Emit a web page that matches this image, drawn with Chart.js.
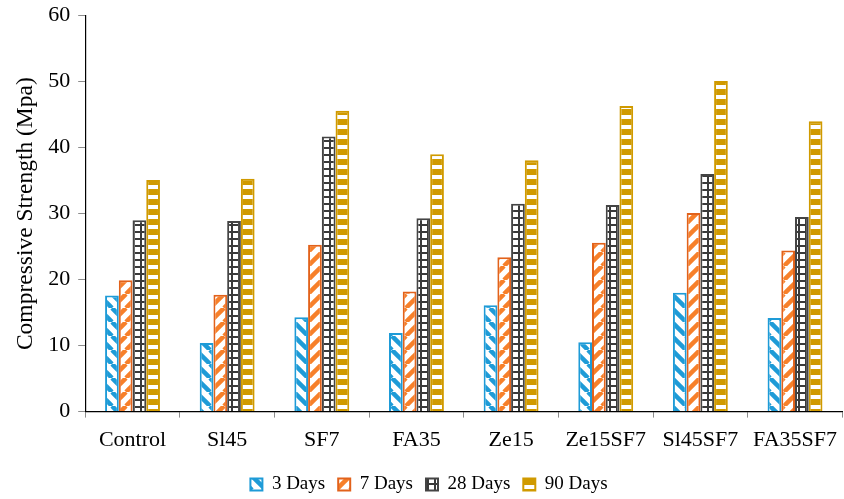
<!DOCTYPE html>
<html>
<head>
<meta charset="utf-8">
<script src="https://cdn.jsdelivr.net/npm/chart.js@4/dist/chart.umd.min.js"></script>
<style>
  html, body { margin: 0; padding: 0; background: #ffffff; overflow: hidden; }
  #wrap { position: relative; width: 846px; height: 499px; }
</style>
</head>
<body>
<div id="wrap"><canvas id="chart"></canvas></div>
<script>
// Mix designs and compressive strength (MPa) at each curing age
const mixes = ['Control', 'Sl45', 'SF7', 'FA35', 'Ze15', 'Ze15SF7', 'Sl45SF7', 'FA35SF7'];
const days3  = [17.6, 10.4, 14.3, 11.9, 16.1, 10.5, 18.0, 14.2];
const days7  = [19.9, 17.7, 25.3, 18.2, 23.4, 25.6, 30.1, 24.4];
const days28 = [29.0, 28.9, 41.7, 29.3, 31.5, 31.3, 36.0, 29.5];
const days90 = [35.1, 35.3, 45.6, 39.0, 38.1, 46.3, 50.1, 44.0];
const ageLabels = ['3 Days', '7 Days', '28 Days', '90 Days'];

const SERIF = "'Liberation Serif', 'Times New Roman', serif";
const ctx = document.getElementById('chart').getContext('2d');

function makePattern(w, h, draw) {
  const c = document.createElement('canvas');
  c.width = w; c.height = h;
  const g = c.getContext('2d');
  draw(g, w, h);
  return ctx.createPattern(c, 'repeat');
}

// wide downward diagonal
const bluePattern = makePattern(14, 14, (g, s) => {
  g.fillStyle = '#ffffff'; g.fillRect(0, 0, s, s);
  g.strokeStyle = '#1e9bd7'; g.lineWidth = 4.5;
  for (let k = -1; k <= 1; k++) {
    g.beginPath(); g.moveTo(k * s, 0); g.lineTo(k * s + s, s); g.stroke();
  }
});
// wide upward diagonal
const orangePattern = makePattern(14, 14, (g, s) => {
  g.fillStyle = '#ffffff'; g.fillRect(0, 0, s, s);
  g.strokeStyle = '#f7802a'; g.lineWidth = 4.5;
  for (let k = 0; k <= 2; k++) {
    g.beginPath(); g.moveTo(k * s, 0); g.lineTo(k * s - s, s); g.stroke();
  }
});
// small grid
const gridPattern = makePattern(7, 7, (g, w, h) => {
  g.fillStyle = '#ffffff'; g.fillRect(0, 0, w, h);
  g.fillStyle = '#3a3a3a';
  g.fillRect(0, 0, w, 2);
  g.fillRect(0, 0, 2, h);
});
// horizontal bricks
const goldPattern = makePattern(10, 10, (g, w, h) => {
  g.fillStyle = '#d09a00'; g.fillRect(0, 0, w, h);
  g.fillStyle = '#ffffff'; g.fillRect(0, 5, w, 4);
});

const seriesValues = [days3, days7, days28, days90];
const fills = [bluePattern, orangePattern, gridPattern, goldPattern];
const borders = ['#1e9bd7', '#e2621b', '#444444', '#d09a00'];

new Chart(ctx, {
  type: 'bar',
  data: {
    labels: mixes,
    datasets: ageLabels.map((label, i) => ({
      label,
      data: seriesValues[i],
      backgroundColor: fills[i],
      borderColor: borders[i],
      borderWidth: 2,
      borderSkipped: 'bottom',
      barPercentage: 1.0,
      categoryPercentage: 0.58
    }))
  },
  options: {
    responsive: true,
    maintainAspectRatio: false,
    animation: false,
    layout: { padding: { left: 12, right: 0, top: 0, bottom: -5 } },
    plugins: {
      legend: {
        position: 'bottom',
        labels: {
          boxWidth: 12,
          boxHeight: 12,
          padding: 13,
          color: '#000000',
          font: { family: SERIF, size: 19 }
        }
      },
      tooltip: { enabled: false }
    },
    scales: {
      x: {
        grid: {
          drawOnChartArea: false,
          drawTicks: true,
          tickLength: 6,
          color: '#8c8c8c'
        },
        border: { display: true, color: '#000000', width: 1.2 },
        ticks: {
          color: '#000000',
          padding: 9,
          maxRotation: 0,
          font: { family: SERIF, size: 22 }
        }
      },
      y: {
        min: 0,
        max: 60,
        grid: {
          drawOnChartArea: false,
          drawTicks: true,
          tickLength: 7,
          color: '#8c8c8c'
        },
        border: { display: true, color: '#000000', width: 1.2 },
        ticks: {
          stepSize: 10,
          color: '#000000',
          padding: 8,
          font: { family: SERIF, size: 22, lineHeight: 0.7 }
        },
        title: {
          display: true,
          text: 'Compressive Strength (Mpa)',
          color: '#000000',
          padding: { top: 0, bottom: 0 },
          font: { family: SERIF, size: 23.5 }
        }
      }
    }
  }
});
</script>
</body>
</html>
